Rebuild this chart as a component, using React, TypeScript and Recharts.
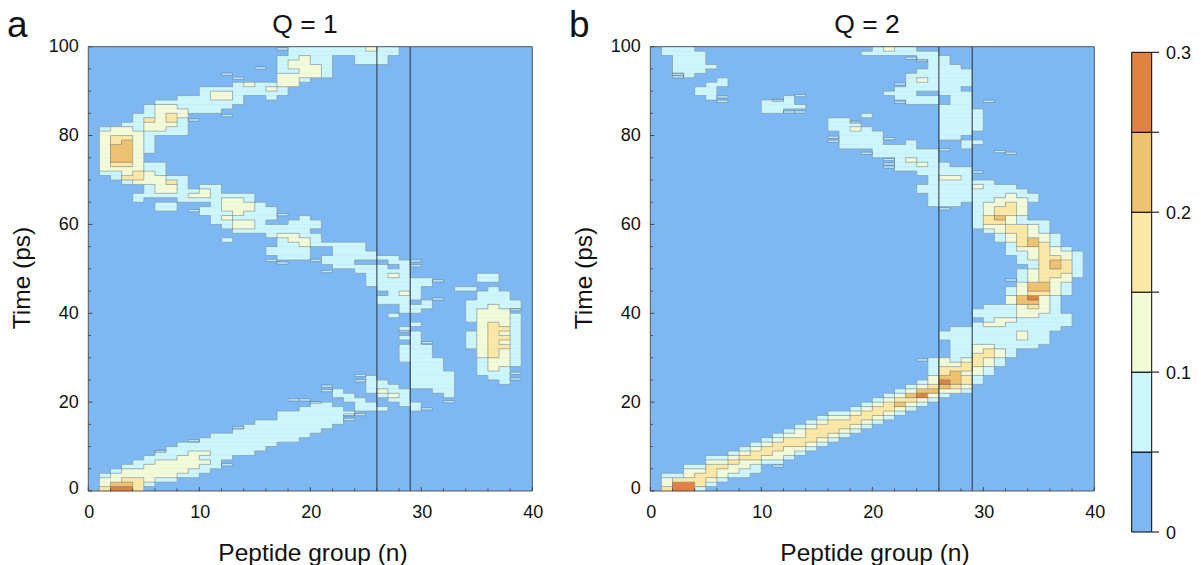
import { Bar, BarChart, ReferenceArea, ReferenceLine, Scatter, ScatterChart, XAxis, YAxis } from "recharts";

const LEVEL_COLORS = ["#7eb8f3", "#cdf5fc", "#f3fad8", "#fce8a6", "#eec26e", "#e08342"];
const BAND_VALUES = [0.05, 0.05, 0.05, 0.05, 0.05, 0.05];
const BAND_TICKS = [0, 0.05, 0.1, 0.15, 0.2, 0.25, 0.3];
const X_TICKS = [0, 2, 4, 6, 8, 10, 12, 14, 16, 18, 20, 22, 24, 26, 28, 30, 32, 34, 36, 38, 40];
const Y_TICKS = [0, 5, 10, 15, 20, 25, 30, 35, 40, 45, 50, 55, 60, 65, 70, 75, 80, 85, 90, 95, 100];
const MARKED_GROUPS = [26, 29];

// one string per time step, t = 99 at the top down to t = 0, one digit per peptide group
const rowsQ1 = [
  "0000000000 0000000011 1111121100 0000000000",
  "0000000000 0000000011 1111111100 0000000000",
  "0000000000 0000000112 1100111000 0000000000",
  "0000000000 0000000122 1100111000 0000000000",
  "0000000000 0000000122 2100000000 0000000000",
  "0000000000 0000000112 2100000000 0000000000",
  "0000000000 0000000222 2100000000 0000000000",
  "0000000000 0000000221 0000000000 0000000000",
  "0000000000 0001211220 0000000000 0000000000",
  "0000000000 1111112100 0000000000 0000000000",
  "0000000000 1221111100 0000000000 0000000000",
  "0000000011 1221001000 0000000000 0000000000",
  "0000001111 1111000000 0000000000 0000000000",
  "0000012211 1110000000 0000000000 0000000000",
  "0000012221 1100000000 0000000000 0000000000",
  "0000112320 0000000000 0000000000 0000000000",
  "0000132310 0000000000 0000000000 0000000000",
  "0001122210 0000000000 0000000000 0000000000",
  "0122122110 0000000000 0000000000 0000000000",
  "0222211110 0000000000 0000000000 0000000000",
  "0233210000 0000000000 0000000000 0000000000",
  "0234210000 0000000000 0000000000 0000000000",
  "0244210000 0000000000 0000000000 0000000000",
  "0244210000 0000000000 0000000000 0000000000",
  "0244200000 0000000000 0000000000 0000000000",
  "0244200000 0000000000 0000000000 0000000000",
  "0233211000 0000000000 0000000000 0000000000",
  "0222211000 0000000000 0000000000 0000000000",
  "0112321000 0000000000 0000000000 0000000000",
  "0013322110 0000000000 0000000000 0000000000",
  "0001222310 0000000000 0000000000 0000000000",
  "0000012210 1100000000 0000000000 0000000000",
  "0000012211 2100000000 0000000000 0000000000",
  "0000111112 2111100000 0000000000 0000000000",
  "0000100011 1122100000 0000000000 0000000000",
  "0000001100 0122210000 0000000000 0000000000",
  "0000001100 1122211000 0000000000 0000000000",
  "0000000000 1112111000 0000000000 0000000000",
  "0000000000 0121111001 0000000000 0000000000",
  "0000000000 0112210011 1000000000 0000000000",
  "0000000000 0012211111 1000000000 0000000000",
  "0000000000 0001111111 0000000000 0000000000",
  "0000000000 0000001221 1000000000 0000000000",
  "0000000000 0010000122 1000000000 0000000000",
  "0000000000 0000000112 1111100000 0000000000",
  "0000000000 0000001111 0011100000 0000000000",
  "0000000000 0000001111 0011110000 0000000000",
  "0000000000 0000000111 0111111100 0000000000",
  "0000000000 0000000000 0111000110 0000000000",
  "0000000000 0000000000 0011111010 0000000000",
  "0000000000 0000000000 0000111110 0000000000",
  "0000000000 0000000000 0000011210 0000011000",
  "0000000000 0000000000 0000011111 1000011000",
  "0000000000 0000000000 0000011111 1000000000",
  "0000000000 0000000000 0000001111 0001101000",
  "0000000000 0000000000 0000000121 0000011100",
  "0000000000 0000000000 0000001111 0000011100",
  "0000000000 0000000000 0000001110 1000111110",
  "0000000000 0000000000 0000000011 1000112110",
  "0000000000 0000000000 0000000011 0000122200",
  "0000000000 0000000000 0000000100 0000122210",
  "0000000000 0000000000 0000000000 0000122210",
  "0000000000 0000000000 0000000001 0000023210",
  "0000000000 0000000000 0000000010 0000023310",
  "0000000000 0000000000 0000000001 0000123210",
  "0000000000 0000000000 0000000011 0000123310",
  "0000000000 0000000000 0000000001 0000123210",
  "0000000000 0000000000 0000000011 1000123310",
  "0000000000 0000000000 0000000011 1000023210",
  "0000000000 0000000000 0000000011 1000023210",
  "0000000000 0000000000 0000000011 1100012210",
  "0000000000 0000000000 0000000001 1100012210",
  "0000000000 0000000000 0000000001 1100012100",
  "0000000000 0000000000 0000000001 1110011100",
  "0000000000 0000000000 0000010001 1110001100",
  "0000000000 0000000000 0000011001 1110000100",
  "0000000000 0000000000 0000011101 1110000000",
  "0000000000 0000000000 0010012110 0110000000",
  "0000000000 0000000000 0011001210 0010000000",
  "0000000000 0000000000 0001100110 0000000000",
  "0000000000 0000000000 1100110011 0000000000",
  "0000000000 0000000001 1110111001 0000000000",
  "0000000000 0000000111 1111000000 0000000000",
  "0000000000 0000000111 1110000000 0000000000",
  "0000000000 0000011111 1110000000 0000000000",
  "0000000000 0000111111 1100000000 0000000000",
  "0000000000 0001111111 1000000000 0000000000",
  "0000000000 0111111111 0000000000 0000000000",
  "0000000000 1111111110 0000000000 0000000000",
  "0000000011 1111111000 0000000000 0000000000",
  "0000000111 1111110000 0000000000 0000000000",
  "0000001112 2111100000 0000000000 0000000000",
  "0000011122 1110000000 0000000000 0000000000",
  "0000112222 2100000000 0000000000 0000000000",
  "0001122222 1100000000 0000000000 0000000000",
  "0012222221 1000000000 0000000000 0000000000",
  "0122222211 0000000000 0000000000 0000000000",
  "0223321100 0000000000 0000000000 0000000000",
  "0244310000 0000000000 0000000000 0000000000",
  "0355300000 0000000000 0000000000 0000000000",
];

const rowsQ2 = [
  "0111000000 0000000000 1211000000 0000000000",
  "0111100000 0000000001 1111110000 0000000000",
  "0011100000 0000000000 0000111000 0000000000",
  "0011100000 0000000000 0000011000 0000000000",
  "0011110000 0000000000 0000011100 0000000000",
  "0011100000 0000000000 0000111110 0000000000",
  "0001000000 0000000000 0001111110 0000000000",
  "0000001000 0000000000 0001211110 0000000000",
  "0000011000 0000000000 0001111110 0000000000",
  "0000110000 0000000000 0011111100 0000000000",
  "0000110000 0000000000 0111001110 0000000000",
  "0000010000 0010000000 0011110110 0000000000",
  "0000000000 1110000000 0001110110 0000000000",
  "0000000000 1111000000 0000001110 0000000000",
  "0000000000 1100000000 0000001111 0000000000",
  "0000000000 0000000001 0000001111 0000000000",
  "0000000000 0000001100 0000001111 0000000000",
  "0000000000 0000001110 0000001111 0000000000",
  "0000000000 0000001121 0000001111 0000000000",
  "0000000000 0000000111 1000001110 0000000000",
  "0000000000 0000000111 1000001100 0000000000",
  "0000000000 0000000111 1001000011 0000000000",
  "0000000000 0000000111 1111000010 0000000000",
  "0000000000 0000000000 1111110000 0000000000",
  "0000000000 0000000000 1111110000 0000000000",
  "0000000000 0000000000 0012110000 0000000000",
  "0000000000 0000000000 0011211000 0000000000",
  "0000000000 0000000000 0011111110 0000000000",
  "0000000000 0000000000 0000111110 0000000000",
  "0000000000 0000000000 0000012210 0000000000",
  "0000000000 0000000000 0000011111 1000000000",
  "0000000000 0000000000 0000111112 1110000000",
  "0000000000 0000000000 0000111111 1111000000",
  "0000000000 0000000000 0000011111 1121100000",
  "0000000000 0000000000 0000011111 1222100000",
  "0000000000 0000000000 0000011101 2232000000",
  "0000000000 0000000000 0000000001 2332000000",
  "0000000000 0000000000 0000000001 2332000000",
  "0000000000 0000000000 0000000001 3421000000",
  "0000000000 0000000000 0000000001 3321110000",
  "0000000000 0000000000 0000000001 2233210000",
  "0000000000 0000000000 0000000000 1233210000",
  "0000000000 0000000000 0000000000 0123221000",
  "0000000000 0000000000 0000000000 0123421000",
  "0000000000 0000000000 0000000000 0013431000",
  "0000000000 0000000000 0000000000 0012232100",
  "0000000000 0000000000 0000000000 0011232210",
  "0000000000 0000000000 0000000000 0001233210",
  "0000000000 0000000000 0000000000 0001134310",
  "0000000000 0000000000 0000000000 0000134310",
  "0000000000 0000000000 0000000000 0001233310",
  "0000000000 0000000000 0000000000 0001233210",
  "0000000000 0000000000 0000000000 0001232200",
  "0000000000 0000000000 0000000000 0002442100",
  "0000000000 0000000000 0000000000 0012442100",
  "0000000000 0000000000 0000000000 0012332100",
  "0000000000 0000000000 0000000000 0024521000",
  "0000000000 0000000000 0000000000 0024421000",
  "0000000000 0000000000 0000000000 1112321000",
  "0000000000 0000000000 0000000001 1112221000",
  "0000000000 0000000000 0000000001 1112211100",
  "0000000000 0000000000 0000000000 1221111100",
  "0000000000 0000000000 0000000001 2211111100",
  "0000000000 0000000000 0000000111 1111111000",
  "0000000000 0000000000 0000001111 1112110000",
  "0000000000 0000000000 0000001111 1112110000",
  "0000000000 0000000000 0000000111 1111110000",
  "0000000000 0000000000 0000000112 2111100000",
  "0000000000 0000000000 0000000112 3210000000",
  "0000000000 0000000000 0000000113 3210000000",
  "0000000000 0000000000 0000012123 2100000000",
  "0000000000 0000000000 0000012233 2100000000",
  "0000000000 0000000000 0000013332 1000000000",
  "0000000000 0000000000 0000013422 1000000000",
  "0000000000 0000000000 0000024431 0000000000",
  "0000000000 0000000000 0000125431 0000000000",
  "0000000000 0000000000 0001234320 0000000000",
  "0000000000 0000000000 0012442210 0000000000",
  "0000000000 0000000000 0124521000 0000000000",
  "0000000000 0000000000 1233210000 0000000000",
  "0000000000 0000000001 2342100000 0000000000",
  "0000000000 0000000012 3321000000 0000000000",
  "0000000000 0000001123 3210000000 0000000000",
  "0000000000 0000012233 2100000000 0000000000",
  "0000000000 0000123332 1000000000 0000000000",
  "0000000000 0001233321 0000000000 0000000000",
  "0000000000 0012333210 0000000000 0000000000",
  "0000000000 0122332100 0000000000 0000000000",
  "0000000000 1233321000 0000000000 0000000000",
  "0000000001 2333210000 0000000000 0000000000",
  "0000000012 3322100000 0000000000 0000000000",
  "0000000123 3221000000 0000000000 0000000000",
  "0000011233 2210000000 0000000000 0000000000",
  "0000022322 1100000000 0000000000 0000000000",
  "0001133221 0000000000 0000000000 0000000000",
  "0002232211 0000000000 0000000000 0000000000",
  "0112332110 0000000000 0000000000 0000000000",
  "0233321000 0000000000 0000000000 0000000000",
  "0255310000 0000000000 0000000000 0000000000",
  "0355100000 0000000000 0000000000 0000000000",
];

// thin one-sample streaks: [group, time]
const streaksQ1 = [
  [17, 99.5], [12, 93.8], [13, 92.9], [15, 95.2], [12, 84.5], [9, 83.5], [9, 63.1], [17, 62.2],
  [17, 51.3], [16, 51.9], [20, 51.9], [21, 49.4], [29, 51.8], [29, 50.7], [31, 47.3], [31, 43.2],
  [28, 35.9], [30, 33.4], [38, 40.8], [38, 26.5], [38, 25.2], [24, 26], [24, 24.8], [21, 23.6],
  [21, 22.6], [18, 20.5], [32, 20.1], [30, 18.5], [19, 20.5], [20, 19.9], [23, 17.1], [23, 16.1],
  [24, 17.2], [12, 5.9], [13, 14.2], [9, 11.3], [6, 8.9],
];
const streaksQ2 = [
  [2, 93.8], [2, 93.2], [6, 88.7], [6, 87.7], [12, 85.3], [13, 85.3], [11, 87.9], [13, 89],
  [16, 79.6], [16, 78.7], [21, 79.3], [21, 74.6], [21, 73.6], [21, 72.9], [22, 91.6], [22, 87.5],
  [23, 97.4], [24, 96.9], [18, 83], [19, 76], [26, 76.8], [31, 76.4], [32, 76], [29, 71.8],
  [26, 63.5], [32, 47.5], [30, 87.7], [24, 29.5], [11, 5.6],
];

const parseRows = (rows: string[]) => rows.map((r) => r.replace(/ /g, "").split("").map(Number));

function HeatmapPanel({ rows, streaks, left }: { rows: string[]; streaks: number[][]; left: number }) {
  const grid = parseRows(rows);
  const at = (t: number, n: number) => {
    if (t < 0 || t > 99 || n < 0 || n > 39) return -1;
    return grid[99 - t][n];
  };

  const areas: any[] = [];
  const peaks: any[] = [];
  for (let t = 0; t < 100; t++) {
    let n = 0;
    while (n < 40) {
      const level = at(t, n);
      let end = n + 1;
      while (end < 40 && at(t, end) === level) end++;
      if (level > 0) {
        areas.push({ t, n, end, level });
        peaks.push({ n: (n + end) / 2, t: t + 0.5 });
      }
      n = end;
    }
  }

  // contour edges between differing levels
  const edges: any[] = [];
  for (let t = 1; t < 100; t++) {
    let start = -1;
    for (let n = 0; n <= 40; n++) {
      const differs = n < 40 && at(t, n) !== at(t - 1, n);
      if (differs && start < 0) start = n;
      if (!differs && start >= 0) {
        edges.push([start, t, n, t]);
        start = -1;
      }
    }
  }
  for (let n = 1; n < 40; n++) {
    let start = -1;
    for (let t = 0; t <= 100; t++) {
      const differs = t < 100 && at(t, n) !== at(t, n - 1);
      if (differs && start < 0) start = t;
      if (!differs && start >= 0) {
        edges.push([n, start, n, t]);
        start = -1;
      }
    }
  }

  const bottomTick = (p: any) => {
    const v = p.payload.value;
    return (
      <g>
        <line x1={p.x} x2={p.x} y1={p.y} y2={p.y - (v % 10 === 0 ? 4 : 2.5)} stroke="#444" />
        {v % 10 === 0 && (
          <text x={p.x + 1} y={p.y + 27} textAnchor="middle" fontSize={18} fill="#111">
            {v}
          </text>
        )}
      </g>
    );
  };
  const topTick = (p: any) => (
    <line x1={p.x} x2={p.x} y1={p.y} y2={p.y + (p.payload.value % 10 === 0 ? 4 : 2.5)} stroke="#444" />
  );
  const leftTick = (p: any) => {
    const v = p.payload.value;
    return (
      <g>
        <line x1={p.x} x2={p.x + (v % 20 === 0 ? 4 : 2.5)} y1={p.y} y2={p.y} stroke="#444" />
        {v % 20 === 0 && (
          <text x={p.x - 9.5} y={p.y + (v === 0 ? 3 : 5.5)} textAnchor="end" fontSize={18} fill="#111">
            {v}
          </text>
        )}
      </g>
    );
  };
  const rightTick = (p: any) => (
    <line x1={p.x} x2={p.x - (p.payload.value % 20 === 0 ? 4 : 2.5)} y1={p.y} y2={p.y} stroke="#444" />
  );

  return (
    <div style={{ position: "absolute", left, top: 0 }}>
      <ScatterChart width={560} height={565} margin={{ top: 45.7, left: 87.3, right: 26.7, bottom: 73 }}>
        <XAxis type="number" dataKey="n" domain={[0, 40]} ticks={X_TICKS} interval={0} height={1} tickSize={0} tickMargin={0} tick={bottomTick} stroke="#555" />
        <XAxis type="number" xAxisId="top" orientation="top" domain={[0, 40]} ticks={X_TICKS} interval={0} height={1} tickSize={0} tickMargin={0} tick={topTick} stroke="#555" />
        <YAxis type="number" dataKey="t" domain={[0, 100]} ticks={Y_TICKS} interval={0} width={1} tickSize={0} tickMargin={0} tick={leftTick} stroke="#555" />
        <YAxis type="number" yAxisId="right" orientation="right" domain={[0, 100]} ticks={Y_TICKS} interval={0} width={1} tickSize={0} tickMargin={0} tick={rightTick} stroke="#555" />
        <Scatter data={peaks} isAnimationActive={false} shape={() => null} />
        <ReferenceArea x1={0} x2={40} y1={0} y2={100} fill={LEVEL_COLORS[0]} fillOpacity={1} stroke="none" />
        {areas.map((a) => (
          <ReferenceArea
            key={`a${a.t}-${a.n}`}
            x1={a.n}
            x2={a.end}
            y1={a.t}
            y2={a.t + 1}
            fill={LEVEL_COLORS[a.level]}
            fillOpacity={1}
            stroke={LEVEL_COLORS[a.level]}
            strokeWidth={0.5}
          />
        ))}
        {edges.map((e, i) => (
          <ReferenceLine
            key={`e${i}`}
            segment={[
              { x: e[0], y: e[1] },
              { x: e[2], y: e[3] },
            ]}
            stroke="#3c465a"
            strokeOpacity={0.36}
            strokeWidth={1}
          />
        ))}
        {streaks.map((s, i) => (
          <ReferenceArea
            key={`s${i}`}
            x1={s[0]}
            x2={s[0] + 1}
            y1={s[1] - 0.25}
            y2={s[1] + 0.25}
            fill={LEVEL_COLORS[1]}
            fillOpacity={0.8}
            stroke="#3c465a"
            strokeOpacity={0.42}
            strokeWidth={0.8}
          />
        ))}
        {MARKED_GROUPS.map((g) => (
          <ReferenceLine key={g} x={g} stroke="#27333f" strokeWidth={1} />
        ))}
      </ScatterChart>
    </div>
  );
}

const bandRow = [Object.fromEntries(BAND_VALUES.map((v, i) => [`b${i}`, v]))];

const bandTick = (p: any) => {
  const v = p.payload.value;
  const tenth = Math.round(v * 100) % 10 === 0;
  return (
    <g>
      <line x1={p.x - 7} x2={p.x} y1={p.y} y2={p.y} stroke="#000" />
      {tenth && (
        <text x={p.x + 7} y={p.y + 6.5} fontSize={18} fill="#111">
          {Number(v.toFixed(1))}
        </text>
      )}
    </g>
  );
};

function ColorBar() {
  return (
    <div style={{ position: "absolute", left: 1120, top: 0 }}>
      <BarChart
        width={81}
        height={565}
        data={bandRow}
        barCategoryGap={0}
        margin={{ top: 52.3, left: 11.7, right: 0, bottom: 33 }}
      >
        <XAxis hide />
        <YAxis
          orientation="right"
          type="number"
          domain={[0, 0.3]}
          ticks={BAND_TICKS}
          interval={0}
          width={49}
          tickSize={0}
          tickMargin={7}
          axisLine={false}
          tick={bandTick}
        />
        {BAND_VALUES.map((_, i) => (
          <Bar
            key={i}
            dataKey={`b${i}`}
            stackId="bar"
            fill={LEVEL_COLORS[i]}
            stroke="#000"
            strokeWidth={1}
            isAnimationActive={false}
          />
        ))}
      </BarChart>
    </div>
  );
}

export default function App() {
  return (
    <div style={{ position: "absolute", left: 0, top: 0, width: 1201, height: 565, background: "#fff", fontFamily: "'Liberation Sans', Arial, sans-serif", overflow: "hidden" }}>
      <HeatmapPanel rows={rowsQ1} streaks={streaksQ1} left={0} />
      <HeatmapPanel rows={rowsQ2} streaks={streaksQ2} left={562} />
      <ColorBar />
      <svg width={1201} height={565} style={{ position: "absolute", left: 0, top: 0, pointerEvents: "none" }}>
        <text x={7} y={37} fontSize={37} fill="#111">a</text>
        <text x={569} y={37} fontSize={37} fill="#111">b</text>
        <text x={305} y={33} fontSize={26.5} fill="#111" textAnchor="middle">Q = 1</text>
        <text x={867} y={33} fontSize={26.5} fill="#111" textAnchor="middle">Q = 2</text>
        <text x={313} y={561} fontSize={24.5} fill="#111" textAnchor="middle">Peptide group (n)</text>
        <text x={875} y={561} fontSize={24.5} fill="#111" textAnchor="middle">Peptide group (n)</text>
        <text transform="translate(30,278) rotate(-90)" fontSize={24.5} fill="#111" textAnchor="middle">Time (ps)</text>
        <text transform="translate(592,278) rotate(-90)" fontSize={24.5} fill="#111" textAnchor="middle">Time (ps)</text>
      </svg>
    </div>
  );
}
